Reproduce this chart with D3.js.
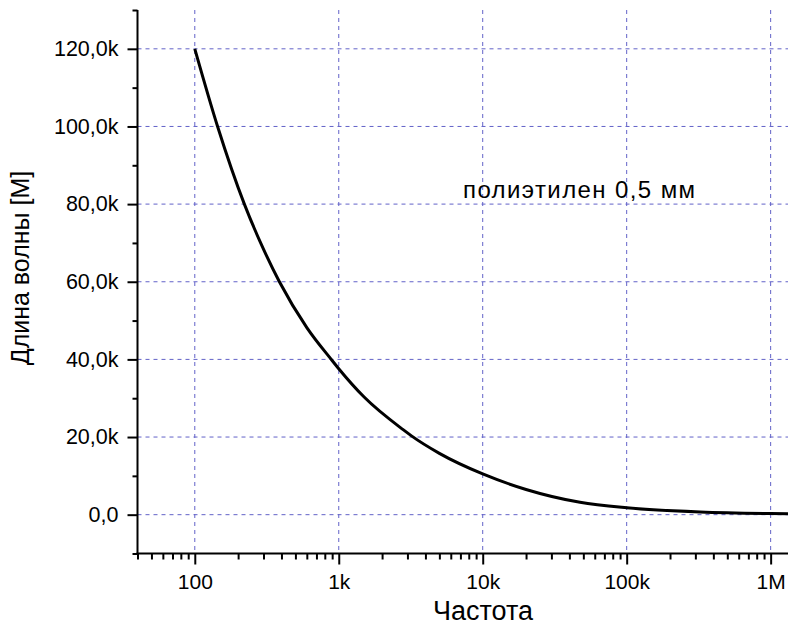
<!DOCTYPE html>
<html>
<head>
<meta charset="utf-8">
<script src="https://cdn.jsdelivr.net/npm/d3@7"></script>
<style>
  body { margin: 0; background: #fff; }
  text { font-family: Arial, "Liberation Sans", sans-serif; fill: #000; }
</style>
</head>
<body>
<div id="chart"></div>
<script>
// frequency [Hz] and wavelength [m]
let freq = [100, 144, 221, 300, 387, 600, 887, 1000, 1500, 2800, 3200, 5000, 10000, 20000, 47400, 100000, 324000, 1000000, 1320000];
let wave = [120000, 100000, 80000, 68400, 60000, 48200, 40000, 37600, 30300, 21900, 20300, 15800, 10500, 6500, 3200, 1800, 700, 300, 250];

let xMajor = [100, 1e3, 1e4, 1e5, 1e6];
let xLabels = ["100", "1k", "10k", "100k", "1M"];
let yMajor = [0, 20000, 40000, 60000, 80000, 100000, 120000];
let yLabels = ["0,0", "20,0k", "40,0k", "60,0k", "80,0k", "100,0k", "120,0k"];
let yMinor = [-10000, 10000, 30000, 50000, 70000, 90000, 110000, 130000];

let annotation = "полиэтилен 0,5 мм";
let xTitle = "Частота";
let yTitle = "Длина волны [М]";

let W = 788, H = 625;
// plot edges
let plot = {left: 137.5, right: 788, top: 10, bottom: 553.5};

let svg = d3.select("#chart").append("svg")
    .attr("width", W)
    .attr("height", H);

let x = d3.scaleLog().domain([40, 1.32e6]).range([plot.left, plot.right]);
let y = d3.scaleLinear().domain([-10000, 130000]).range([plot.bottom, plot.top]);

// minor ticks on the log axis
let xMinor = [];
[10, 100, 1e3, 1e4, 1e5, 1e6].forEach(function(p){
    for (let k = 2; k <= 9; k++){
        let v = k * p;
        if (v >= 40 && v <= 1.32e6) xMinor.push(v);
    }
});

let grid = "#6262c8";

// grid lines
svg.append("g").selectAll("line")
    .data(xMajor)
    .enter().append("line")
    .attr("x1", d => x(d)).attr("x2", d => x(d))
    .attr("y1", plot.top).attr("y2", plot.bottom)
    .attr("stroke", grid).attr("stroke-width", 1)
    .attr("stroke-dasharray", "4,4");

svg.append("g").selectAll("line")
    .data(yMajor)
    .enter().append("line")
    .attr("x1", plot.left).attr("x2", plot.right)
    .attr("y1", d => y(d)).attr("y2", d => y(d))
    .attr("stroke", grid).attr("stroke-width", 1)
    .attr("stroke-dasharray", "4,4");

// x axis
let gx = svg.append("g").attr("transform", "translate(0," + plot.bottom + ")");
gx.call(d3.axisBottom(x).tickValues(xMinor).tickSize(6).tickFormat(""));
gx.append("g").call(d3.axisBottom(x).tickValues(xMajor).tickSize(11)
    .tickFormat((d, i) => xLabels[i]).tickPadding(10));
gx.selectAll(".domain").remove();
gx.selectAll("line").attr("stroke", "#000").attr("stroke-width", 2);
gx.selectAll("text").attr("font-size", "21px").attr("fill", "#000")
    .style("font-family", "Arial, 'Liberation Sans', sans-serif");

// y axis
let gy = svg.append("g").attr("transform", "translate(" + plot.left + ",0)");
gy.call(d3.axisLeft(y).tickValues(yMinor).tickSize(5).tickFormat(""));
gy.append("g").call(d3.axisLeft(y).tickValues(yMajor).tickSize(10)
    .tickFormat((d, i) => yLabels[i]).tickPadding(9));
gy.selectAll(".domain").remove();
gy.selectAll("line").attr("stroke", "#000").attr("stroke-width", 2);
gy.selectAll("text").attr("font-size", "21.5px").attr("fill", "#000")
    .style("font-family", "Arial, 'Liberation Sans', sans-serif");

// axis lines
svg.append("line")
    .attr("x1", plot.left).attr("x2", plot.left)
    .attr("y1", plot.top).attr("y2", plot.bottom + 1)
    .attr("stroke", "#000").attr("stroke-width", 2);
svg.append("line")
    .attr("x1", plot.left - 1).attr("x2", plot.right)
    .attr("y1", plot.bottom).attr("y2", plot.bottom)
    .attr("stroke", "#000").attr("stroke-width", 2);

// curve
let line = d3.line()
    .x((d, i) => x(freq[i]))
    .y((d, i) => y(wave[i]))
    .curve(d3.curveMonotoneX);

svg.append("path")
    .datum(wave)
    .attr("d", line)
    .attr("fill", "none")
    .attr("stroke", "#000")
    .attr("stroke-width", 3);

// labels
svg.append("text")
    .attr("x", 463).attr("y", 198)
    .attr("font-size", "24px")
    .attr("letter-spacing", "1.4px")
    .text(annotation);

svg.append("text")
    .attr("x", 483).attr("y", 620)
    .attr("text-anchor", "middle")
    .attr("font-size", "27px")
    .text(xTitle);

svg.append("text")
    .attr("transform", "translate(29,268) rotate(-90)")
    .attr("text-anchor", "middle")
    .attr("font-size", "25px")
    .text(yTitle);
</script>
</body>
</html>
